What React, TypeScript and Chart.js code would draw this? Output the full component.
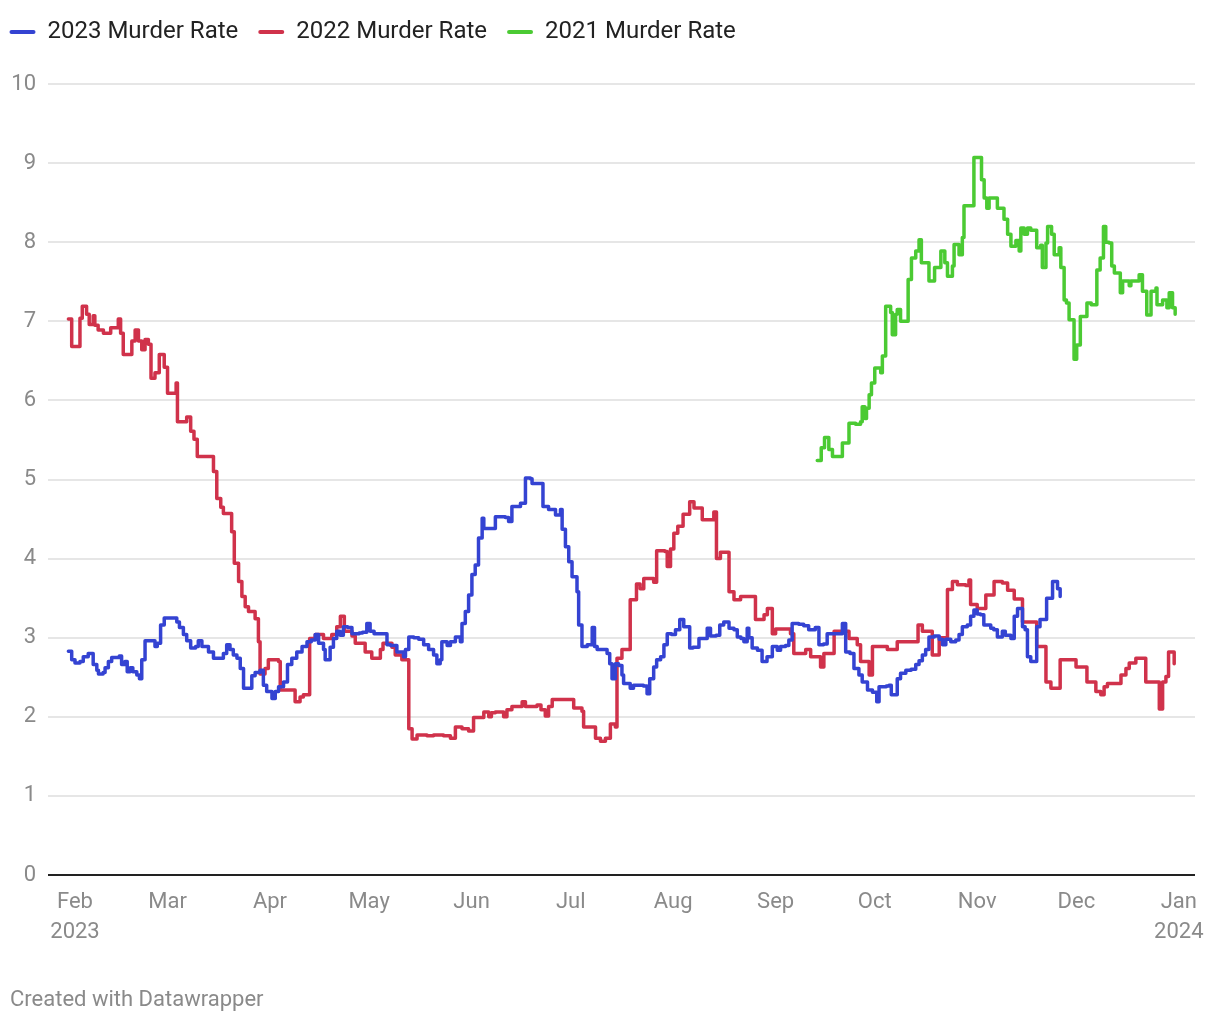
import React, { useEffect, useRef } from "react";
import { Chart, registerables } from "chart.js";

Chart.register(...registerables);

// x values are days counted from 1 Feb 2023
const monthDays = [0, 28, 59, 89, 120, 150, 181, 212, 242, 273, 303, 334];
const monthLabels = [
  ["Feb", "2023"], ["Mar"], ["Apr"], ["May"], ["Jun"], ["Jul"],
  ["Aug"], ["Sep"], ["Oct"], ["Nov"], ["Dec"], ["Jan", "2024"],
];

const seriesNames = ["2023 Murder Rate", "2022 Murder Rate", "2021 Murder Rate"];
const seriesColors = ["#3443d2", "#d0324b", "#4bca33"];

const days2023 = [-2,-1,0,1.5,2.5,4,5.5,6.6,7.1,8.5,9.1,10.1,11.1,13.4,14.1,15.1,15.8,16.7,17.5,18.7,19.5,20.2,21.2,24.2,24.9,25.9,27,30.8,31.6,32.8,33.8,35,36.5,37.3,38.4,40.4,41.9,44.9,45.9,46.9,47.9,49,50,51,53.5,54.5,56,57,58,59.6,60.6,61.6,63.1,64.3,65.6,67.1,68.7,70.2,71.5,72.7,73.7,75.2,75.7,77.2,78.2,79.2,80.2,81.2,82.5,83.8,86,87,88.3,89.3,90.5,94.4,95.5,97.4,99.4,100,101,102.5,104,105.5,107,108.5,109.5,110.5,111,112.6,113.6,115.1,116.6,117.1,118.1,119.1,120.1,121.1,122.1,123.2,123.7,127.2,130.2,131.2,132.2,134.8,136.3,137.8,138.3,141.6,143.3,145.4,146.9,147.4,148.4,149.4,150.4,151.9,152.4,153.4,155,156.5,157.2,158,161,161.8,162.5,163.5,164.5,165.5,166,168,169,172,173.1,173.9,175.1,176,177.2,178.2,179.2,180.5,181.7,183,184.2,186,187,188.8,191.3,192.3,194,195.1,196.3,197.9,199.4,200.4,201.5,202.4,203.4,203.9,204.9,206.5,207.9,209.4,211,212.5,213.5,215,216,217,219,220.5,222,224,225.1,226.5,227.6,230.5,232.2,233.2,234.5,235.7,237.2,238.2,239.8,241.3,242.6,243.3,245.5,246.3,247,248.8,249.8,251.4,253,254.4,255.4,256.4,257.4,258.4,260,261.5,262.5,263.5,265,266.5,267.5,268.5,270,271,272,273,274,275,277.1,278,279.1,280.6,281.5,283.2,284.2,285.2,286.7,287.5,288.2,289.2,291,292,294,295.8,297.3,298.1];
const rate2023 = [2.83,2.72,2.68,2.70,2.76,2.80,2.66,2.59,2.54,2.56,2.62,2.70,2.75,2.77,2.66,2.70,2.57,2.62,2.57,2.53,2.48,2.72,2.96,2.89,2.93,3.16,3.25,3.20,3.13,3.04,2.96,2.87,2.89,2.96,2.89,2.82,2.74,2.80,2.91,2.85,2.78,2.74,2.61,2.36,2.52,2.56,2.59,2.40,2.32,2.23,2.32,2.38,2.44,2.66,2.74,2.82,2.89,2.95,2.97,3.04,2.93,2.85,2.72,2.88,2.99,3.08,3.03,3.14,3.13,3.05,3.06,3.07,3.18,3.08,3.05,2.91,2.90,2.82,2.76,2.85,3.01,3.00,2.98,2.91,2.85,2.78,2.67,2.72,2.95,2.90,2.95,3.01,2.95,3.18,3.33,3.54,3.80,3.92,4.26,4.51,4.38,4.53,4.52,4.47,4.66,4.70,5.02,5.01,4.95,4.66,4.62,4.55,4.62,4.37,4.15,3.96,3.77,3.58,3.16,2.89,2.91,3.13,2.89,2.85,2.80,2.67,2.48,2.67,2.65,2.53,2.42,2.36,2.40,2.39,2.29,2.48,2.63,2.72,2.76,2.91,3.05,3.04,3.10,3.23,3.14,2.87,2.88,2.99,3.12,3.02,3.03,3.16,3.20,3.12,3.10,3.01,2.99,2.95,3.12,3.00,2.87,2.84,2.70,2.76,2.89,2.84,2.89,2.90,2.97,3.18,3.17,3.15,3.10,3.13,2.91,2.92,3.05,3.05,3.18,2.82,2.80,2.61,2.53,2.44,2.34,2.31,2.19,2.38,2.39,2.40,2.28,2.48,2.55,2.59,2.60,2.66,2.71,2.78,2.85,3.01,3.02,2.98,2.91,2.98,2.95,2.97,3.04,3.14,3.16,3.27,3.35,3.30,3.29,3.16,3.12,3.10,3.01,3.08,3.03,2.99,3.27,3.37,3.14,3.10,2.76,2.70,3.14,3.23,3.50,3.71,3.62,3.52];

const days2022 = [-2,-1,1.5,2.2,3.5,4.3,5.5,6,7,8.6,10.8,13.1,13.8,14.6,17.2,18.2,19.2,20.2,21.2,22.2,23,24.2,25.5,27,28,30.6,31,33.8,35,36,37,41.9,42.9,44.1,44.9,47.4,48.2,49.5,50.5,51.5,52.5,54.5,55.5,56,57.5,58.5,61.6,62.1,66.6,68.1,69.1,71,72.7,75.2,77.7,79.2,80.3,81.5,83.8,84.8,87.8,89.8,92.4,93.2,95.9,96.9,98.9,101,102,103.5,106.5,108.5,111.5,113.6,115.1,117.1,119.1,120.6,123.7,125.2,126,127.2,129.7,130.7,132.2,135.3,136.3,139.8,141,142.3,143.3,144.4,150.4,150.9,153.4,153.9,157.5,159,160.5,162,163.5,164,165.5,168,169.9,171,172.1,175.1,176,178.5,179.2,180.2,181.2,182.4,184,186,187.3,189.8,193.3,194.1,195.3,197.9,199.4,201.4,205.9,208.5,209.5,211,212,216.5,217.5,221.1,222.6,225.6,226.6,229.7,234.2,236.7,237.7,240.3,241.3,245.8,248.8,255.1,256.4,259.4,261.5,264,265.5,267,269.5,270.5,271,273,275.6,278.1,280.6,282.2,284.2,286.7,291,293.8,295.3,298.1,302.9,306.2,308.9,310.4,311.4,312.4,316.5,318,319,321,324,328.1,329.1,330.1,330.9,332.6];
const rate2022 = [7.03,6.68,7.04,7.19,7.09,6.96,7.07,6.95,6.89,6.85,6.92,7.03,6.85,6.58,6.75,6.89,6.75,6.64,6.77,6.71,6.28,6.35,6.58,6.42,6.09,6.22,5.73,5.79,5.61,5.51,5.29,5.10,4.76,4.65,4.57,4.34,3.94,3.71,3.52,3.39,3.33,3.24,2.95,2.54,2.61,2.72,2.70,2.34,2.19,2.25,2.28,2.99,3.04,2.99,3.04,3.14,3.27,3.08,3.02,2.93,2.82,2.74,2.85,2.93,2.88,2.78,2.72,1.85,1.72,1.77,1.76,1.77,1.76,1.73,1.87,1.85,1.82,1.99,2.06,2.00,2.05,2.06,2.00,2.09,2.13,2.19,2.13,2.15,2.09,2.01,2.13,2.22,2.22,2.11,2.07,1.87,1.73,1.69,1.73,1.91,1.87,2.74,2.85,3.48,3.68,3.62,3.75,3.70,4.10,4.09,3.90,4.12,4.32,4.41,4.56,4.72,4.64,4.49,4.59,4.00,4.08,3.58,3.48,3.52,3.23,3.29,3.37,3.05,3.11,3.05,2.80,2.85,2.76,2.63,2.80,3.08,2.99,2.91,2.70,2.53,2.89,2.85,2.95,3.16,3.08,2.78,3.00,3.61,3.71,3.67,3.66,3.73,3.42,3.37,3.54,3.71,3.69,3.60,3.49,3.20,2.89,2.44,2.36,2.72,2.63,2.44,2.32,2.28,2.38,2.42,2.53,2.61,2.68,2.74,2.44,2.10,2.44,2.51,2.82,2.67];

const days2021 = [224.6,225.8,226.8,228.1,229.2,232.2,234.2,236.2,237.7,238.2,239,239.5,240.3,241,242,243.8,244.3,245.3,246.8,247.3,248.3,248.8,249.8,252.1,253.1,254.4,255.4,256.1,258.4,260.1,262,263.2,264,265.5,266,267.5,268.5,269,272,274.3,275.1,275.9,276.6,279.1,281.1,282.2,283.2,284.7,285.7,286.2,287.2,288.2,289.2,291,292.2,292.7,293.8,294.3,295.5,296.3,297.8,298.3,299.3,300,300.8,302.3,303.1,304.2,306.2,307.5,309.2,310.2,311.2,311.9,312.9,313.7,314.5,316.3,317,319,319.5,322,323,324.3,325.6,327.1,327.4,329.1,330.4,331.1,332.1,332.9];
const rate2021 = [5.24,5.40,5.53,5.38,5.29,5.46,5.71,5.70,5.73,5.92,5.77,5.90,6.07,6.22,6.41,6.35,6.56,7.19,7.11,6.83,7.09,7.15,7.00,7.53,7.80,7.89,8.03,7.74,7.51,7.68,7.89,7.74,7.57,7.70,7.97,7.84,8.06,8.46,9.07,8.79,8.56,8.43,8.56,8.43,8.29,8.10,7.95,8.02,7.89,8.18,8.10,8.18,8.15,7.93,7.96,7.68,7.99,8.20,8.10,7.84,7.93,7.68,7.27,7.23,7.02,6.52,6.70,7.06,7.23,7.21,7.65,7.80,8.20,8.00,7.99,7.70,7.61,7.36,7.51,7.45,7.51,7.59,7.38,7.08,7.38,7.42,7.21,7.27,7.17,7.36,7.17,7.09];

const yTickValues = [0, 1, 2, 3, 4, 5, 6, 7, 8, 9, 10];

const toPoints = (xs: number[], ys: number[]) => xs.map((x, i) => ({ x, y: ys[i] }));

const legendShift = {
  id: "legendShift",
  afterLayout(chart: any) {
    const l = chart.legend;
    if (l) {
      l.left = -18.5;
      l.top = -8;
    }
  },
};

export default function App() {
  const ref = useRef<HTMLCanvasElement>(null);

  useEffect(() => {
    let chart: Chart | null = null;
    let cancelled = false;
    const build = () => {
      if (cancelled || !ref.current) return;
      Chart.defaults.font.family = "Roboto";
      const seriesData = [
        toPoints(days2023, rate2023),
        toPoints(days2022, rate2022),
        toPoints(days2021, rate2021),
      ];
      chart = new Chart(ref.current, {
        type: "line",
        data: {
          datasets: seriesData.map((d, i) => ({
            label: seriesNames[i],
            data: d,
            borderColor: seriesColors[i],
            backgroundColor: seriesColors[i],
            borderWidth: 3.5,
            pointRadius: 0,
            stepped: true,
            fill: false,
            borderJoinStyle: "round",
            borderCapStyle: "round",
          })) as any,
        },
        options: {
          responsive: false,
          animation: false,
          events: [],
          layout: { padding: { top: 22, left: 2, right: 17, bottom: 0 } },
          plugins: {
            legend: {
              align: "start",
              labels: {
                boxWidth: 26,
                boxHeight: 4,
                padding: 20,
                color: "#222",
                font: { size: 24, family: "Roboto" },
                generateLabels: (c: any) =>
                  c.data.datasets.map((ds: any, i: number) => ({
                    text: ds.label,
                    fillStyle: ds.borderColor,
                    strokeStyle: ds.borderColor,
                    lineWidth: 0,
                    borderRadius: 2,
                    datasetIndex: i,
                    hidden: false,
                    fontColor: "#222",
                  })),
              },
            },
            title: {
              display: true,
              text: "Created with Datawrapper",
              position: "bottom",
              align: "start",
              color: "#8a8a8a",
              font: { size: 22, weight: "normal", lineHeight: 1.0, family: "Roboto" },
              padding: { top: 0, bottom: 1 },
            },
            tooltip: { enabled: false },
          },
          scales: {
            x: {
              type: "linear",
              min: -8.17,
              max: 338.9,
              grid: { display: false },
              border: { display: false },
              afterBuildTicks: (s: any) => {
                s.ticks = monthDays.map((v) => ({ value: v }));
              },
              afterFit: (s: any) => {
                s.height = 114;
              },
              ticks: {
                autoSkip: false,
                maxRotation: 0,
                padding: 5,
                color: "#8a8a8a",
                font: { size: 22, lineHeight: 1.36, family: "Roboto" },
                callback: (v: any) => monthLabels[monthDays.indexOf(Number(v))] ?? "",
              },
            },
            y: {
              min: 0,
              max: 10,
              afterBuildTicks: (s: any) => {
                s.ticks = yTickValues.map((v) => ({ value: v }));
              },
              afterFit: (s: any) => {
                s.width = 38;
              },
              border: { display: false },
              grid: {
                drawTicks: false,
                color: (ctx: any) => (ctx.tick && ctx.tick.value === 0 ? "#222" : "#e6e6e6"),
                lineWidth: 2,
              },
              ticks: {
                padding: 12,
                color: "#8a8a8a",
                font: { size: 22, family: "Roboto" },
              },
            },
          },
        } as any,
        plugins: [legendShift],
      });
    };
    if (document.fonts && document.fonts.load) {
      document.fonts.load("24px Roboto").then(build, build);
    } else {
      build();
    }
    return () => {
      cancelled = true;
      if (chart) chart.destroy();
    };
  }, []);

  return (
    <div style={{ width: 1204, height: 1004 }}>
      <canvas ref={ref} width={1204} height={1004} style={{ display: "block" }} />
    </div>
  );
}
